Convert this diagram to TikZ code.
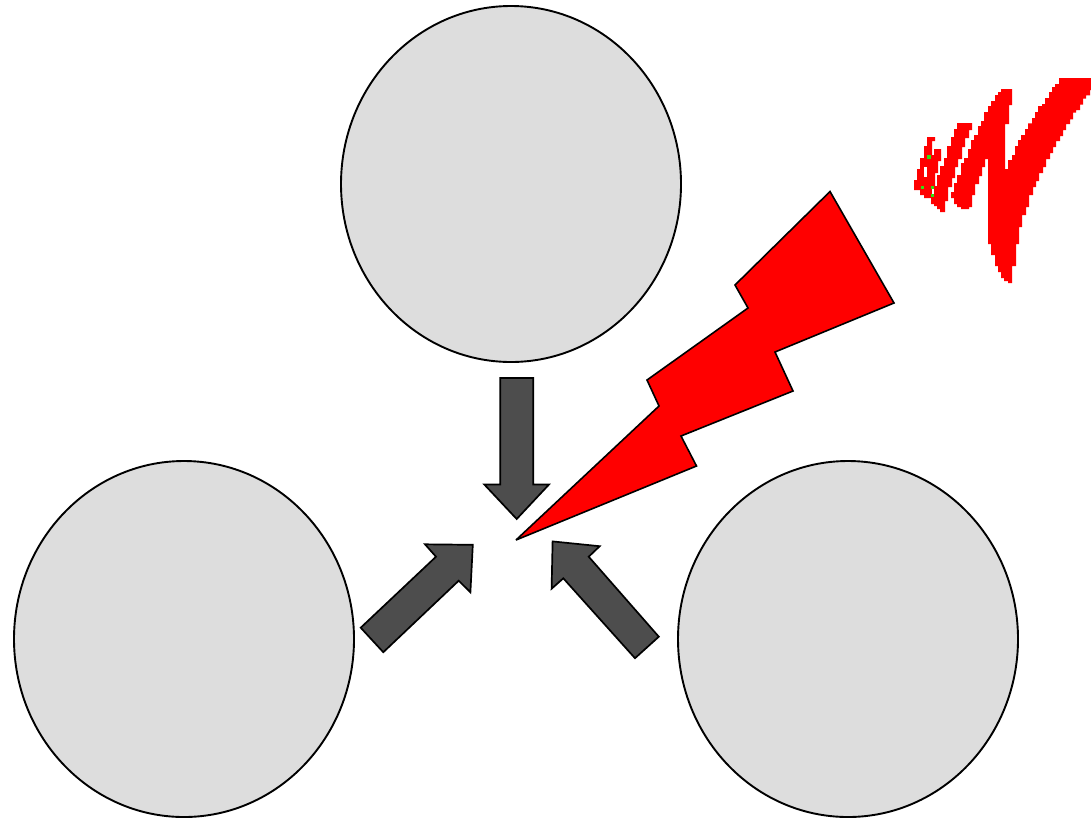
\documentclass[tikz,border=0pt]{standalone}
\definecolor{bubblegray}{HTML}{DDDDDD}
\definecolor{arrowgray}{HTML}{4D4D4D}
\definecolor{speckgreen}{HTML}{33DD11}
\tikzset{
  bubble/.style={draw=black,fill=bubblegray,line width=1.9pt},
  pointer/.style={draw=black,fill=arrowgray,line width=1.7pt,line join=miter},
  bolt/.style={draw=black,fill=red,line width=1.6pt,line join=miter,miter limit=3},
  scribble/.style={fill=red,draw=none},
  speck/.style={fill=speckgreen,draw=none},
  gap/.style={fill=white,draw=none}
}
\begin{document}
\begin{tikzpicture}[x=1pt,y=-1pt]
\useasboundingbox (0,0) rectangle (1091,820);
% circles
\path[bubble] (511,184) ellipse [x radius=170,y radius=178];
\path[bubble] (184,639) ellipse [x radius=170,y radius=178];
\path[bubble] (848,639) ellipse [x radius=170,y radius=178];
% arrows
\path[pointer] (500.3,378)--(533.3,378)--(533.3,484.5)--(549,484.5)--(516.7,519)--(484.3,484.5)--(500.3,484.5)--cycle;
\path[pointer] (360.7,627.7)--(436,556.7)--(425,544.3)--(472.8,544.8)--(470.4,592.3)--(458.7,580.7)--(383.3,652.2)--cycle;
\path[pointer] (658.8,636.7)--(588.7,556.7)--(599.7,546.2)--(552.6,541.4)--(551.6,588.7)--(563.3,578.3)--(635,658.2)--cycle;
% lightning
\path[bolt] (516,540)--(696.5,466)--(681,436)--(793,391)--(775,352)--(894,303)--(830,191.5)--(735,285)--(748,308)--(647,380)--(659,406)--cycle;
% scribble
\begin{scope}[shift={(900,70)},x=0.33333pt,y=-0.33333pt]
\path[scribble] (573,24)--(573,60)--(570,60)--(570,76)--(558,76)--(558,86)--(549,86)--(549,104)--(540,104)--(540,120)--(528,120)--(528,128)--(519,128)--(519,148)--(510,148)--(510,162)--(498,162)--(498,180)--(489,180)--(489,198)--(480,198)--(480,213)--(468,213)--(468,231)--(459,231)--(459,249)--(450,249)--(450,267)--(438,267)--(438,291)--(429,291)--(429,309)--(417,309)--(417,333)--(408,333)--(408,351)--(399,351)--(399,375)--(387,375)--(387,411)--(378,411)--(378,435)--(366,435)--(366,471)--(357,471)--(357,522)--(348,522)--(348,588)--(336,588)--(336,639)--(324,639)--(324,633)--(312,633)--(312,624)--(303,624)--(303,606)--(294,606)--(294,588)--(285,588)--(285,555)--(273,555)--(273,522)--(264,522)--(264,267)--(255,267)--(255,291)--(246,291)--(246,318)--(237,318)--(237,342)--(225,342)--(225,375)--(216,375)--(216,411)--(207,411)--(207,417)--(183,417)--(183,411)--(171,411)--(171,402)--(162,402)--(162,384)--(153,384)--(153,366)--(162,366)--(162,339)--(171,339)--(171,315)--(183,315)--(183,279)--(192,279)--(192,264)--(204,264)--(204,237)--(213,237)--(213,210)--(222,210)--(222,195)--(234,195)--(234,168)--(243,168)--(243,153)--(252,153)--(252,126)--(264,126)--(264,108)--(273,108)--(273,93)--(285,93)--(285,75)--(294,75)--(294,66)--(303,66)--(303,57)--(336,57)--(336,105)--(327,105)--(327,162)--(315,162)--(315,297)--(324,297)--(324,270)--(336,270)--(336,255)--(345,255)--(345,228)--(354,228)--(354,210)--(363,210)--(363,195)--(375,195)--(375,177)--(384,177)--(384,160)--(396,160)--(396,144)--(405,144)--(405,126)--(414,126)--(414,108)--(426,108)--(426,102)--(435,102)--(435,84)--(447,84)--(447,66)--(456,66)--(456,51)--(465,51)--(465,42)--(477,42)--(477,24)--cycle;
\path[scribble] (171,159)--(216,159)--(216,180)--(207,180)--(207,204)--(195,204)--(195,231)--(186,231)--(186,267)--(174,267)--(174,291)--(165,291)--(165,324)--(156,324)--(156,351)--(144,351)--(144,393)--(135,393)--(135,426)--(120,426)--(120,417)--(111,417)--(111,408)--(102,408)--(102,402)--(93,402)--(93,384)--(72,384)--(72,375)--(60,375)--(60,360)--(42,360)--(42,330)--(51,330)--(51,297)--(60,297)--(60,264)--(72,264)--(72,228)--(81,228)--(81,201)--(105,201)--(105,213)--(96,213)--(96,255)--(102,255)--(102,237)--(123,237)--(123,273)--(114,273)--(114,309)--(105,309)--(105,348)--(111,348)--(111,315)--(120,315)--(120,288)--(132,288)--(132,264)--(141,264)--(141,228)--(153,228)--(153,201)--(162,201)--(162,177)--(171,177)--cycle;
\path[gap] (72,291) rectangle (81,321);
\path[gap] (96,358) rectangle (102,372);
\path[speck] (81,255) rectangle (93,267);
\path[speck] (63,348) rectangle (72,357);
\path[speck] (93,348) rectangle (102,358);
\path[speck] (93,372) rectangle (102,381);
\end{scope}
\end{tikzpicture}
\end{document}
